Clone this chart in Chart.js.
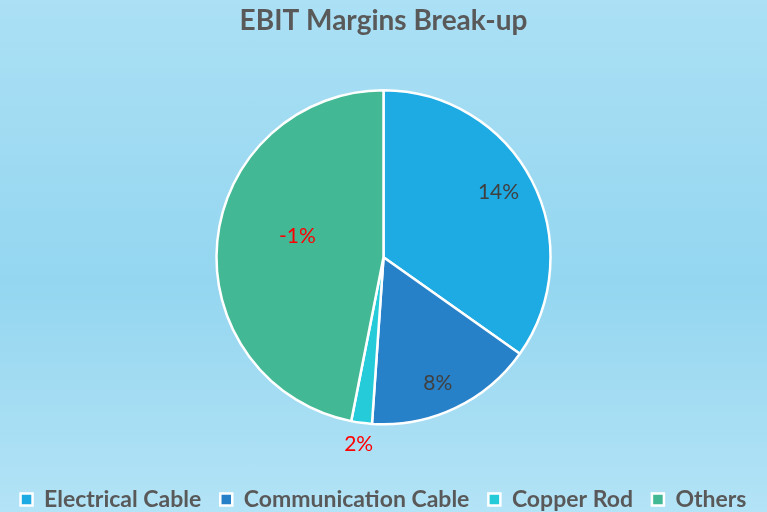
<!DOCTYPE html>
<html>
<head>
<meta charset="utf-8">
<script src="https://cdn.jsdelivr.net/npm/chart.js@4.4.1/dist/chart.umd.min.js"></script>
<style>
    html, body { margin: 0; padding: 0; }
    body {
        width: 767px;
        height: 512px;
        background: linear-gradient(to bottom, #abe0f5 0%, #94d6f0 55%, #b3e3f6 100%);
    }
    #wrap { position: relative; width: 767px; height: 512px; }
</style>
</head>
<body>
<div id="wrap"><canvas id="ebitChart"></canvas></div>
<script>
// Segment names and slice sizes (share of the pie)
const categories = ['Electrical Cable', 'Communication Cable', 'Copper Rod', 'Others'];
const sliceShare = [34.8, 16.3, 2.0, 46.9];
// EBIT margin text printed on each slice
const marginLabels = ['14%', '8%', '2%', '-1%'];
const sliceColors = ['#1eaae2', '#2781c8', '#25cbd9', '#42b994'];
const labelColors = ['#404040', '#404040', '#ff0000', '#ff0000'];
// where the label sits: fraction of radius, and shift in degrees from the slice middle
const labelRadius = [0.79, 0.82, 1.13, 0.53];
const labelShift = [-2, 2, 0, 8];

const FONT = 'Lato, "Open Sans", sans-serif';

const sliceLabels = {
    id: 'sliceLabels',
    afterDatasetsDraw(chart) {
        const ctx = chart.ctx;
        const meta = chart.getDatasetMeta(0);
        ctx.save();
        ctx.font = '21px ' + FONT;
        ctx.textAlign = 'center';
        ctx.textBaseline = 'middle';
        meta.data.forEach((arc, i) => {
            const p = arc.getProps(['x', 'y', 'startAngle', 'endAngle', 'outerRadius'], true);
            const mid = (p.startAngle + p.endAngle) / 2 + labelShift[i] * Math.PI / 180;
            const r = p.outerRadius * labelRadius[i];
            ctx.fillStyle = labelColors[i];
            ctx.fillText(marginLabels[i], p.x + Math.cos(mid) * r, p.y + Math.sin(mid) * r);
        });
        ctx.restore();
    }
};

new Chart(document.getElementById('ebitChart'), {
    type: 'pie',
    data: {
        labels: categories,
        datasets: [{
            data: sliceShare,
            backgroundColor: sliceColors,
            borderColor: '#ffffff',
            borderWidth: 2.5,
            radius: 167
        }]
    },
    options: {
        responsive: true,
        maintainAspectRatio: false,
        animation: false,
        layout: { padding: { top: 0, bottom: -9 } },
        plugins: {
            title: {
                display: true,
                text: 'EBIT Margins Break-up',
                color: '#595959',
                font: { family: FONT, size: 28, weight: 'bold' },
                padding: { top: 4, bottom: 8 }
            },
            legend: {
                position: 'bottom',
                labels: {
                    color: '#595959',
                    font: { family: FONT, size: 23, weight: 'bold' },
                    boxWidth: 12,
                    boxHeight: 12,
                    padding: 19
                }
            },
            tooltip: { enabled: false }
        }
    },
    plugins: [sliceLabels]
});
</script>
</body>
</html>
